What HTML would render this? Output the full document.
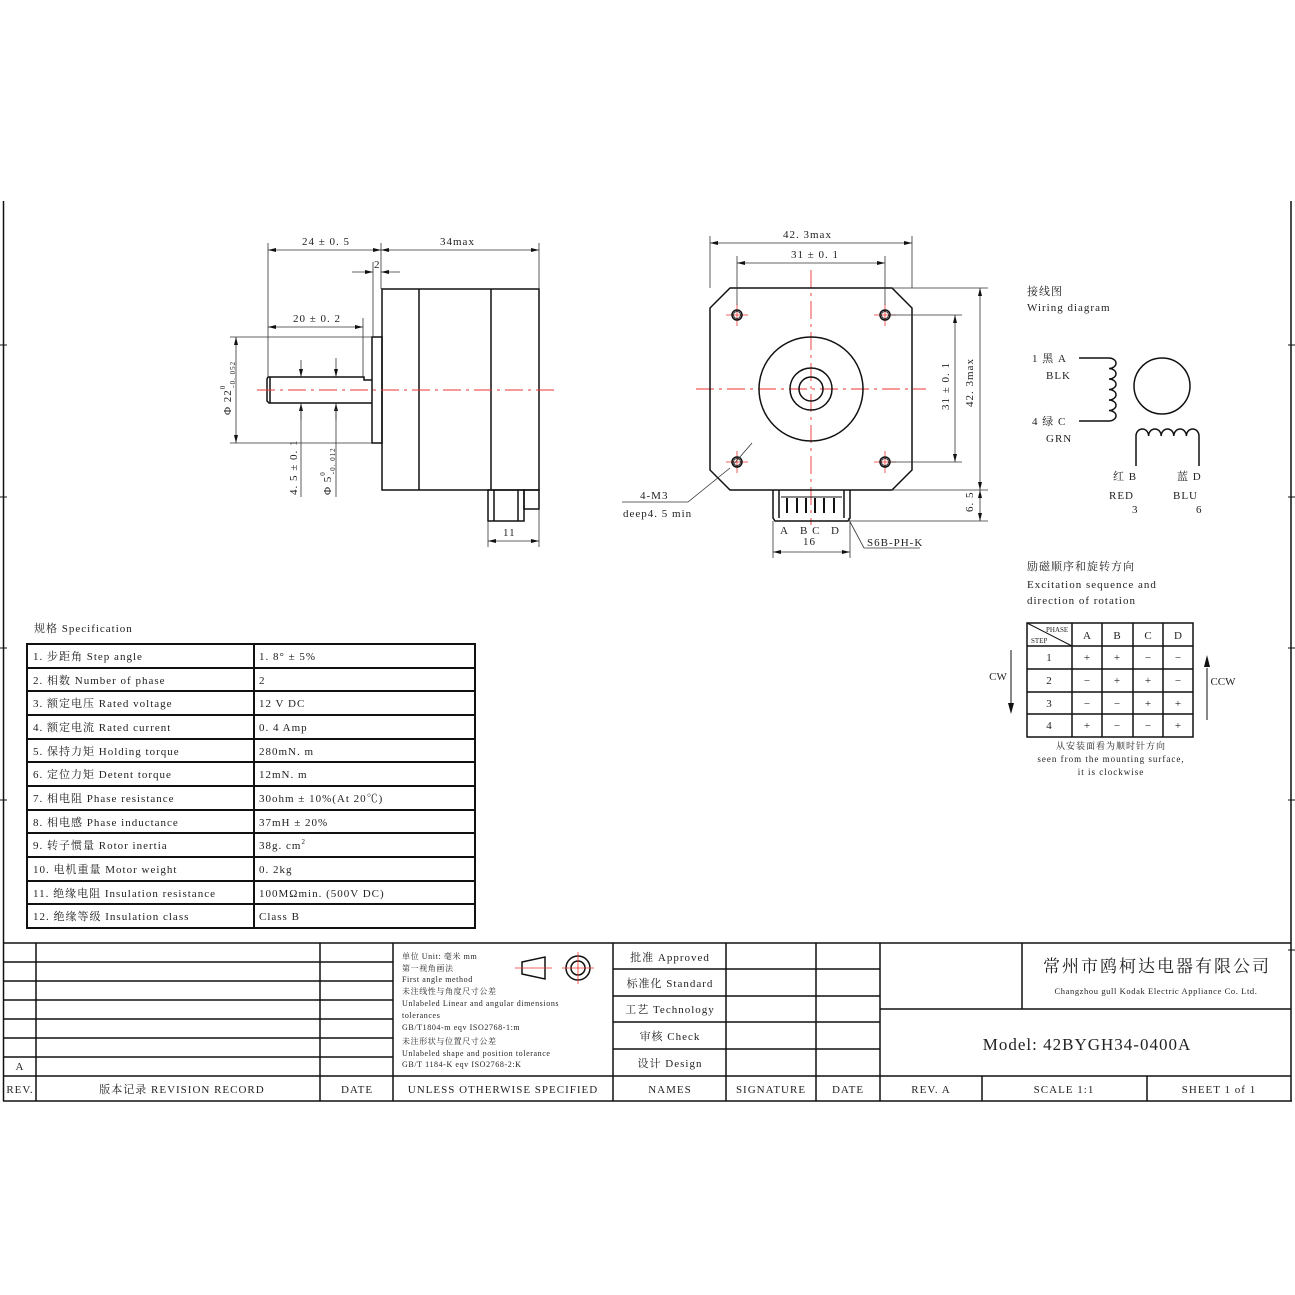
<!DOCTYPE html>
<html><head><meta charset="utf-8"><style>
html,body{margin:0;padding:0;background:#fff;}
svg{display:block;}
text{font-family:"Liberation Serif","Noto Serif CJK SC","Noto Sans CJK SC",serif;fill:#222;}
</style></head><body>
<svg width="1295" height="1295" viewBox="0 0 1295 1295" xmlns="http://www.w3.org/2000/svg">
<defs>
<marker id="ar" markerWidth="8" markerHeight="6" refX="8" refY="3" orient="auto" markerUnits="userSpaceOnUse"><path d="M0,1 L8,3 L0,5 z" fill="#111"/></marker>
<marker id="al" markerWidth="8" markerHeight="6" refX="0" refY="3" orient="auto" markerUnits="userSpaceOnUse"><path d="M8,1 L0,3 L8,5 z" fill="#111"/></marker>
</defs>
<rect width="1295" height="1295" fill="#fff"/>
<g stroke="#111" stroke-width="1.5" fill="none">
<line x1="3.5" y1="201" x2="3.5" y2="1101"/>
<line x1="1291" y1="201" x2="1291" y2="1101"/>
<line x1="3" y1="1101" x2="1292" y2="1101"/>
</g>
<g stroke="#111" stroke-width="1">
<line x1="0" y1="345" x2="7" y2="345"/><line x1="0" y1="497" x2="7" y2="497"/><line x1="0" y1="648" x2="7" y2="648"/><line x1="0" y1="800" x2="7" y2="800"/>
<line x1="1288" y1="345" x2="1295" y2="345"/><line x1="1288" y1="497" x2="1295" y2="497"/><line x1="1288" y1="648" x2="1295" y2="648"/><line x1="1288" y1="800" x2="1295" y2="800"/><line x1="1288" y1="950" x2="1295" y2="950"/>
</g>

<!-- SIDE VIEW -->
<g stroke="#111" stroke-width="1.5" fill="none">
<rect x="382" y="289" width="157" height="201"/>
<line x1="419" y1="289" x2="419" y2="490"/>
<line x1="491" y1="289" x2="491" y2="490"/>
<rect x="372" y="337" width="10" height="106"/>
<path d="M372,380 L364,380 L364,377 L268,377 L267,379 L267,401 L269,403 L372,403"/>
<line x1="270" y1="377" x2="270" y2="403"/>
<rect x="488" y="490" width="36" height="31"/>
<line x1="494" y1="490" x2="494" y2="521"/>
<line x1="518" y1="490" x2="518" y2="521"/>
<rect x="524" y="490" width="15" height="19"/>
</g>
<line x1="257" y1="390" x2="556" y2="390" stroke="#e33" stroke-width="1" stroke-dasharray="18,5,3,5"/>
<g stroke="#333" stroke-width="0.8" fill="none">
<line x1="268" y1="243" x2="268" y2="377"/>
<line x1="381" y1="243" x2="381" y2="289"/>
<line x1="539" y1="243" x2="539" y2="289"/>
<line x1="539" y1="509" x2="539" y2="547"/>
<line x1="488" y1="521" x2="488" y2="547"/>
<line x1="373" y1="262" x2="373" y2="337"/>
<line x1="363" y1="318" x2="363" y2="377"/>
<line x1="230" y1="337" x2="372" y2="337"/>
<line x1="230" y1="443" x2="372" y2="443"/>
<line x1="268" y1="250" x2="381" y2="250" marker-start="url(#al)" marker-end="url(#ar)"/>
<line x1="381" y1="250" x2="539" y2="250" marker-start="url(#al)" marker-end="url(#ar)"/>
<line x1="352" y1="272" x2="373" y2="272" marker-end="url(#ar)"/>
<line x1="400" y1="272" x2="381" y2="272" marker-end="url(#ar)"/>
<line x1="268" y1="327" x2="363" y2="327" marker-start="url(#al)" marker-end="url(#ar)"/>
<line x1="236" y1="337" x2="236" y2="443" marker-start="url(#al)" marker-end="url(#ar)"/>
<line x1="301" y1="360" x2="301" y2="377" marker-end="url(#ar)"/>
<line x1="301" y1="420" x2="301" y2="403" marker-end="url(#ar)"/>
<line x1="301" y1="403" x2="301" y2="497"/>
<line x1="336" y1="358" x2="336" y2="377" marker-end="url(#ar)"/>
<line x1="336" y1="420" x2="336" y2="403" marker-end="url(#ar)"/>
<line x1="336" y1="403" x2="336" y2="497"/>
<line x1="488" y1="541" x2="539" y2="541" marker-start="url(#al)" marker-end="url(#ar)"/>
</g>
<g font-size="11" letter-spacing="1">
<text x="302" y="245">24 ± 0. 5</text>
<text x="440" y="245">34max</text>
<text x="374" y="268">2</text>
<text x="293" y="322">20 ± 0. 2</text>
<text x="503" y="536">11</text>
<text transform="translate(231,415) rotate(-90)">Φ 22<tspan font-size="7" dy="-6">0</tspan><tspan font-size="7" dx="-3" dy="10">-0. 052</tspan></text>
<text transform="translate(297,495) rotate(-90)">4. 5 ± 0. 1</text>
<text transform="translate(331,495) rotate(-90)">Φ 5<tspan font-size="7" dy="-6">0</tspan><tspan font-size="7" dx="-3" dy="10">-0. 012</tspan></text>
</g>

<!-- FRONT VIEW -->
<g stroke="#e33" stroke-width="0.9" stroke-dasharray="18,5,3,5">
<line x1="811" y1="270" x2="811" y2="525"/>
<line x1="696" y1="389" x2="926" y2="389"/>
</g>
<g stroke="#e33" stroke-width="0.8">
<line x1="726" y1="315" x2="748" y2="315"/><line x1="737" y1="304" x2="737" y2="326"/>
<line x1="874" y1="315" x2="896" y2="315"/><line x1="885" y1="304" x2="885" y2="326"/>
<line x1="726" y1="462" x2="748" y2="462"/><line x1="737" y1="451" x2="737" y2="473"/>
<line x1="874" y1="462" x2="896" y2="462"/><line x1="885" y1="451" x2="885" y2="473"/>
</g>
<g stroke="#111" stroke-width="1.5" fill="none">
<path d="M730,288 L892,288 L912,308 L912,470 L892,490 L730,490 L710,470 L710,308 Z"/>
<circle cx="811" cy="389" r="52"/>
<circle cx="811" cy="389" r="21"/>
<circle cx="811" cy="389" r="12"/>
<circle cx="737" cy="315" r="5"/><circle cx="737" cy="315" r="3.5" stroke-width="0.8"/>
<circle cx="885" cy="315" r="5"/><circle cx="885" cy="315" r="3.5" stroke-width="0.8"/>
<circle cx="737" cy="462" r="5"/><circle cx="737" cy="462" r="3.5" stroke-width="0.8"/>
<circle cx="885" cy="462" r="5"/><circle cx="885" cy="462" r="3.5" stroke-width="0.8"/>
<path d="M773,490 L773,518 L775,521 L848,521 L850,518 L850,490"/>
<line x1="779" y1="490" x2="779" y2="518"/>
<line x1="844" y1="490" x2="844" y2="518"/>
<line x1="781" y1="497" x2="842" y2="497" stroke-width="1"/>
</g>
<g stroke="#111" stroke-width="2">
<line x1="787" y1="498" x2="787" y2="513"/><line x1="797" y1="498" x2="797" y2="513"/><line x1="806" y1="498" x2="806" y2="513"/><line x1="815" y1="498" x2="815" y2="513"/><line x1="824" y1="498" x2="824" y2="513"/><line x1="834" y1="498" x2="834" y2="513"/>
</g>
<g stroke="#333" stroke-width="0.8" fill="none">
<line x1="710" y1="236" x2="710" y2="288"/>
<line x1="912" y1="236" x2="912" y2="288"/>
<line x1="737" y1="256" x2="737" y2="305"/>
<line x1="885" y1="256" x2="885" y2="305"/>
<line x1="710" y1="243" x2="912" y2="243" marker-start="url(#al)" marker-end="url(#ar)"/>
<line x1="737" y1="263" x2="885" y2="263" marker-start="url(#al)" marker-end="url(#ar)"/>
<line x1="892" y1="288" x2="988" y2="288"/>
<line x1="890" y1="315" x2="962" y2="315"/>
<line x1="890" y1="462" x2="962" y2="462"/>
<line x1="892" y1="490" x2="988" y2="490"/>
<line x1="850" y1="521" x2="988" y2="521"/>
<line x1="955" y1="315" x2="955" y2="462" marker-start="url(#al)" marker-end="url(#ar)"/>
<line x1="980" y1="288" x2="980" y2="490" marker-start="url(#al)" marker-end="url(#ar)"/>
<line x1="980" y1="490" x2="980" y2="521" marker-start="url(#al)" marker-end="url(#ar)"/>
<line x1="773" y1="521" x2="773" y2="558"/>
<line x1="850" y1="521" x2="850" y2="558"/>
<line x1="773" y1="552" x2="850" y2="552" marker-start="url(#al)" marker-end="url(#ar)"/>
<polyline points="622,502 688,502 730,468"/>
<line x1="733" y1="465" x2="752" y2="443"/>
<polyline points="848,518 864,548 920,548"/>
</g>
<g font-size="11" letter-spacing="1">
<text x="783" y="238">42. 3max</text>
<text x="791" y="258">31 ± 0. 1</text>
<text transform="translate(949,410) rotate(-90)">31 ± 0. 1</text>
<text transform="translate(973,407) rotate(-90)">42. 3max</text>
<text transform="translate(973,512) rotate(-90)">6. 5</text>
<text x="640" y="499">4-M3</text>
<text x="623" y="517">deep4. 5 min</text>
<text x="780" y="534">A</text>
<text x="800" y="534">B C</text>
<text x="831" y="534">D</text>
<text x="803" y="545">16</text>
<text x="867" y="546">S6B-PH-K</text>
</g>

<!-- WIRING -->
<g font-size="11" letter-spacing="1">
<text x="1027" y="295">接线图</text>
<text x="1027" y="311">Wiring diagram</text>
<text x="1032" y="362">1  黑  A</text>
<text x="1046" y="379">BLK</text>
<text x="1032" y="425">4  绿  C</text>
<text x="1046" y="442">GRN</text>
<text x="1113" y="480">红  B</text>
<text x="1109" y="499">RED</text>
<text x="1132" y="513">3</text>
<text x="1177" y="480">蓝  D</text>
<text x="1173" y="499">BLU</text>
<text x="1196" y="513">6</text>
</g>
<g stroke="#111" stroke-width="1.5" fill="none">
<path d="M1079,358 L1109,358 a7,5.25 0 0 1 0,10.5 a7,5.25 0 0 1 0,10.5 a7,5.25 0 0 1 0,10.5 a7,5.25 0 0 1 0,10.5 a7,5.25 0 0 1 0,10.5 a7,5.25 0 0 1 0,10.5 L1079,421"/>
<circle cx="1162" cy="386" r="28"/>
<path d="M1136,466 L1136,436 a6.3,7 0 0 1 12.6,0 a6.3,7 0 0 1 12.6,0 a6.3,7 0 0 1 12.6,0 a6.3,7 0 0 1 12.6,0 a6.3,7 0 0 1 12.6,0 L1199,466"/>
</g>

<!-- EXCITATION -->
<g font-size="11" letter-spacing="1">
<text x="1027" y="570">励磁顺序和旋转方向</text>
<text x="1027" y="588">Excitation sequence and</text>
<text x="1027" y="604">direction of rotation</text>
</g>
<g stroke="#111" stroke-width="1.5" fill="none">
<rect x="1027" y="623" width="166" height="114"/>
<line x1="1072" y1="623" x2="1072" y2="737"/><line x1="1102" y1="623" x2="1102" y2="737"/><line x1="1133" y1="623" x2="1133" y2="737"/><line x1="1163" y1="623" x2="1163" y2="737"/>
<line x1="1027" y1="646" x2="1193" y2="646"/><line x1="1027" y1="669" x2="1193" y2="669"/><line x1="1027" y1="692" x2="1193" y2="692"/><line x1="1027" y1="714" x2="1193" y2="714"/>
<line x1="1027" y1="623" x2="1072" y2="646" stroke-width="1"/>
</g>
<g stroke="#111" stroke-width="1"><line x1="1011" y1="650" x2="1011" y2="705"/><line x1="1207" y1="668" x2="1207" y2="720"/></g>
<path d="M1008,703 L1011,714 L1014,703 Z M1204,667 L1207,655 L1210,667 Z" fill="#111"/>
<g font-size="7"><text x="1046" y="632">PHASE</text><text x="1031" y="643">STEP</text></g>
<g font-size="11" text-anchor="middle">
<text x="1087" y="639">A</text><text x="1117" y="639">B</text><text x="1148" y="639">C</text><text x="1178" y="639">D</text>
<text x="1049" y="661">1</text><text x="1087" y="661">+</text><text x="1117" y="661">+</text><text x="1148" y="661">−</text><text x="1178" y="661">−</text>
<text x="1049" y="684">2</text><text x="1087" y="684">−</text><text x="1117" y="684">+</text><text x="1148" y="684">+</text><text x="1178" y="684">−</text>
<text x="1049" y="707">3</text><text x="1087" y="707">−</text><text x="1117" y="707">−</text><text x="1148" y="707">+</text><text x="1178" y="707">+</text>
<text x="1049" y="729">4</text><text x="1087" y="729">+</text><text x="1117" y="729">−</text><text x="1148" y="729">−</text><text x="1178" y="729">+</text>
<text x="998" y="680">CW</text><text x="1223" y="685">CCW</text>
</g>
<g font-size="9" text-anchor="middle" letter-spacing="1">
<text x="1111" y="749">从安装面看为顺时针方向</text>
<text x="1111" y="762">seen from the mounting surface,</text>
<text x="1111" y="775">it is clockwise</text>
</g>

<!-- SPEC TABLE -->
<text x="34" y="632" font-size="11" letter-spacing="1">规格 Specification</text>
<g stroke="#111" stroke-width="2" fill="none">
<rect x="27" y="644" width="448" height="284"/>
<line x1="254" y1="644" x2="254" y2="928"/>
<line x1="27" y1="668" x2="475" y2="668"/><line x1="27" y1="691" x2="475" y2="691"/><line x1="27" y1="715" x2="475" y2="715"/><line x1="27" y1="739" x2="475" y2="739"/><line x1="27" y1="762" x2="475" y2="762"/><line x1="27" y1="786" x2="475" y2="786"/><line x1="27" y1="810" x2="475" y2="810"/><line x1="27" y1="833" x2="475" y2="833"/><line x1="27" y1="857" x2="475" y2="857"/><line x1="27" y1="881" x2="475" y2="881"/><line x1="27" y1="904" x2="475" y2="904"/>
</g>
<g font-size="11" letter-spacing="1">
<text x="33" y="660">1. 步距角 Step angle</text><text x="259" y="660">1. 8°  ± 5%</text>
<text x="33" y="684">2. 相数 Number of phase</text><text x="259" y="684">2</text>
<text x="33" y="707">3. 额定电压 Rated voltage</text><text x="259" y="707">12 V DC</text>
<text x="33" y="731">4. 额定电流 Rated current</text><text x="259" y="731">0. 4 Amp</text>
<text x="33" y="755">5. 保持力矩 Holding torque</text><text x="259" y="755">280mN. m</text>
<text x="33" y="778">6. 定位力矩 Detent torque</text><text x="259" y="778">12mN. m</text>
<text x="33" y="802">7. 相电阻 Phase resistance</text><text x="259" y="802">30ohm ± 10%(At 20℃)</text>
<text x="33" y="826">8. 相电感 Phase inductance</text><text x="259" y="826">37mH ± 20%</text>
<text x="33" y="849">9. 转子惯量 Rotor inertia</text><text x="259" y="849">38g. cm<tspan font-size="7" dy="-5">2</tspan></text>
<text x="33" y="873">10. 电机重量 Motor weight</text><text x="259" y="873">0. 2kg</text>
<text x="33" y="897">11. 绝缘电阻 Insulation resistance</text><text x="259" y="897">100MΩmin. (500V DC)</text>
<text x="33" y="920">12. 绝缘等级 Insulation class</text><text x="259" y="920">Class B</text>
</g>

<!-- TITLE BLOCK -->
<g stroke="#111" stroke-width="1.5" fill="none">
<line x1="3" y1="943" x2="1291" y2="943"/>
<line x1="3" y1="1076" x2="1291" y2="1076"/>
<line x1="36" y1="943" x2="36" y2="1101"/>
<line x1="320" y1="943" x2="320" y2="1101"/>
<line x1="393" y1="943" x2="393" y2="1101"/>
<line x1="613" y1="943" x2="613" y2="1101"/>
<line x1="726" y1="943" x2="726" y2="1101"/>
<line x1="816" y1="943" x2="816" y2="1101"/>
<line x1="880" y1="943" x2="880" y2="1101"/>
<line x1="1022" y1="943" x2="1022" y2="1009"/>
<line x1="982" y1="1076" x2="982" y2="1101"/>
<line x1="1147" y1="1076" x2="1147" y2="1101"/>
<line x1="880" y1="1009" x2="1291" y2="1009"/>
<line x1="3" y1="962" x2="393" y2="962"/><line x1="3" y1="981" x2="393" y2="981"/><line x1="3" y1="1000" x2="393" y2="1000"/><line x1="3" y1="1019" x2="393" y2="1019"/><line x1="3" y1="1038" x2="393" y2="1038"/><line x1="3" y1="1057" x2="393" y2="1057"/>
<line x1="613" y1="969" x2="880" y2="969"/><line x1="613" y1="996" x2="880" y2="996"/><line x1="613" y1="1022" x2="880" y2="1022"/><line x1="613" y1="1049" x2="880" y2="1049"/>
<path d="M522,962 L545,957 L545,979 L522,974 Z"/>
<circle cx="578" cy="968" r="12"/><circle cx="578" cy="968" r="7"/>
</g>
<g stroke="#e33" stroke-width="0.8"><line x1="515" y1="968" x2="552" y2="968"/><line x1="562" y1="968" x2="594" y2="968"/><line x1="578" y1="952" x2="578" y2="984"/></g>
<g font-size="8" letter-spacing="0.6">
<text x="402" y="959">单位 Unit: 毫米 mm</text>
<text x="402" y="971">第一视角画法</text>
<text x="402" y="982">First angle method</text>
<text x="402" y="994">未注线性与角度尺寸公差</text>
<text x="402" y="1006">Unlabeled Linear and angular dimensions</text>
<text x="402" y="1018">tolerances</text>
<text x="402" y="1030">GB/T1804-m  eqv ISO2768-1:m</text>
<text x="402" y="1044">未注形状与位置尺寸公差</text>
<text x="402" y="1056">Unlabeled shape and position tolerance</text>
<text x="402" y="1067">GB/T 1184-K  eqv ISO2768-2:K</text>
</g>
<g font-size="11" letter-spacing="1" text-anchor="middle">
<text x="20" y="1070">A</text>
<text x="20" y="1093">REV.</text>
<text x="182" y="1093">版本记录 REVISION RECORD</text>
<text x="357" y="1093">DATE</text>
<text x="503" y="1093">UNLESS OTHERWISE SPECIFIED</text>
<text x="670" y="961">批准 Approved</text>
<text x="670" y="987">标准化 Standard</text>
<text x="670" y="1013">工艺 Technology</text>
<text x="670" y="1040">审核 Check</text>
<text x="670" y="1067">设计 Design</text>
<text x="670" y="1093">NAMES</text>
<text x="771" y="1093">SIGNATURE</text>
<text x="848" y="1093">DATE</text>
<text x="931" y="1093">REV. A</text>
<text x="1064" y="1093">SCALE 1:1</text>
<text x="1219" y="1093">SHEET 1 of 1</text>
<text x="1157" y="972" font-size="17" letter-spacing="2">常州市鸥柯达电器有限公司</text>
<text x="1156" y="994" font-size="8.5" letter-spacing="0.6">Changzhou gull Kodak Electric Appliance Co. Ltd.</text>
<text x="1087" y="1050" font-size="17" letter-spacing="1">Model: 42BYGH34-0400A</text>
</g>
</svg>
</body></html>
